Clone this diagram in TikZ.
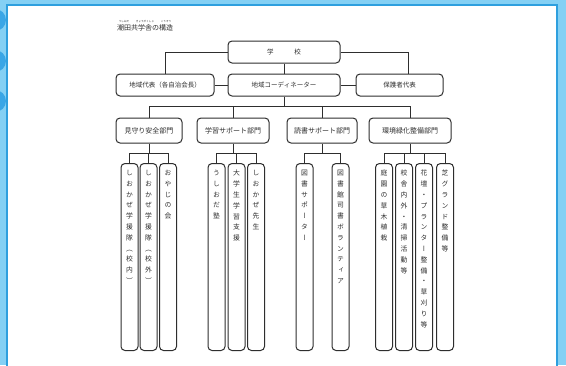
\documentclass[tikz,border=0pt]{standalone}
\usepackage{fontspec}
\newfontfamily\jp{Noto Sans CJK JP}
\newfontfamily\jpv[RawFeature=+vert]{Noto Sans CJK JP}
\definecolor{bgblue}{HTML}{84D0F4}
\definecolor{edgeblue}{HTML}{2E9FDE}
\definecolor{ringblue}{HTML}{3AA6E6}
\definecolor{ink}{HTML}{2E2E2E}
\tikzset{
  box/.style={draw=ink, line width=1pt, rounded corners=4pt, fill=white, inner sep=0pt, minimum height=22pt, text=ink, font=\jp\fontsize{6.5}{7}\selectfont},
  dept/.style={box, minimum height=25pt, font=\jp\fontsize{7}{8}\selectfont},
  col/.style={draw=ink, line width=1pt, rounded corners=4pt, inner sep=0pt, minimum width=17pt, minimum height=187pt, anchor=north},
  coltext/.style={anchor=north, align=center, inner sep=0pt, text=ink, font=\jpv\fontsize{6.8}{10.8}\selectfont},
  conn/.style={draw=ink, line width=1pt}
}
\begin{document}
\begin{tikzpicture}[x=1pt,y=-1pt]
\fill[bgblue] (0,0) rectangle (566,365);
\useasboundingbox (0,0) rectangle (566,365);
\fill[ringblue] (-5,20) circle (11);
\fill[ringblue] (-5,61) circle (11);
\fill[ringblue] (-5,101) circle (11);
\filldraw[fill=white, draw=edgeblue, line width=1.6pt] (7,5) rectangle (557,372);
% title
\node[anchor=west, inner sep=0pt, text=ink, font=\jp\fontsize{7}{8}\selectfont] (title) at (117,28) {潮田共学舎の構造};
\node[inner sep=0pt, text=ink, font=\jp\fontsize{2.6}{3}\selectfont] (r1) at (124,21.5) {うしおだ};
\node[inner sep=0pt, text=ink, font=\jp\fontsize{2.6}{3}\selectfont] (r2) at (145,21.5) {きょうがくしゃ};
\node[inner sep=0pt, text=ink, font=\jp\fontsize{2.6}{3}\selectfont] (r3) at (166,21.5) {こうぞう};
% top rows
\node[box, minimum width=112pt] (school) at (284,52) {学\hspace{3.2em}校};
\node[box, minimum width=98pt] (chiiki) at (165,85) {地域代表（各自治会長）};
\node[box, minimum width=112pt] (coord) at (284,85) {地域コーディネーター};
\node[box, minimum width=87pt] (hogo) at (399.5,85) {保護者代表};
% departments
\node[dept, minimum width=66pt] (d1) at (149,130.5) {見守り安全部門};
\node[dept, minimum width=72pt] (d2) at (233,130.5) {学習サポート部門};
\node[dept, minimum width=70pt] (d3) at (322,130.5) {読書サポート部門};
\node[dept, minimum width=82pt] (d4) at (410,130.5) {環境緑化整備部門};
% columns
\node[col] (c1) at (129.5,163) {};
\node[col] (c2) at (148.5,163) {};
\node[col] (c3) at (168,163) {};
\node[col] (c4) at (216.5,163) {};
\node[col] (c5) at (236.5,163) {};
\node[col] (c6) at (256,163) {};
\node[col] (c7) at (304.5,163) {};
\node[col] (c8) at (340.5,163) {};
\node[col] (c9) at (384,163) {};
\node[col] (c10) at (404,163) {};
\node[col] (c11) at (424,163) {};
\node[col] (c12) at (445,163) {};
\node[coltext] (t1) at ([yshift=-7pt]c1.north) {し\\お\\か\\ぜ\\学\\援\\隊\\（\\校\\内\\）};
\node[coltext] (t2) at ([yshift=-7pt]c2.north) {し\\お\\か\\ぜ\\学\\援\\隊\\（\\校\\外\\）};
\node[coltext] (t3) at ([yshift=-7pt]c3.north) {お\\や\\じ\\の\\会};
\node[coltext] (t4) at ([yshift=-7pt]c4.north) {う\\し\\お\\だ\\塾};
\node[coltext] (t5) at ([yshift=-7pt]c5.north) {大\\学\\生\\学\\習\\支\\援};
\node[coltext] (t6) at ([yshift=-7pt]c6.north) {し\\お\\か\\ぜ\\先\\生};
\node[coltext] (t7) at ([yshift=-7pt]c7.north) {図\\書\\サ\\ポ\\ー\\タ\\ー};
\node[coltext] (t8) at ([yshift=-7pt]c8.north) {図\\書\\館\\司\\書\\ボ\\ラ\\ン\\テ\\ィ\\ア};
\node[coltext] (t9) at ([yshift=-7pt]c9.north) {庭\\園\\の\\草\\木\\植\\栽};
\node[coltext] (t10) at ([yshift=-7pt]c10.north) {校\\舎\\内\\外\\・\\清\\掃\\活\\動\\等};
\node[coltext] (t11) at ([yshift=-7pt]c11.north) {花\\壇\\・\\プ\\ラ\\ン\\タ\\ー\\整\\備\\・\\草\\刈\\り\\等};
\node[coltext] (t12) at ([yshift=-7pt]c12.north) {芝\\グ\\ラ\\ン\\ド\\整\\備\\等};
% connectors
\coordinate (busy) at (0,106);
\coordinate (suby) at (0,153);
\draw[conn] (school.west) -| (chiiki.north);
\draw[conn] (school.east) -| ([xshift=8.5pt]hogo.north);
\draw[conn] (school.south) -- (coord.north);
\draw[conn] (chiiki.east) -- (coord.west);
\draw[conn] (coord.east) -- (hogo.west);
\draw[conn] (coord.south) -- (coord.south |- busy);
\draw[conn] (d1.north) -- (d1.north |- busy) -- (d4.north |- busy) -- (d4.north);
\draw[conn] (d2.north) -- (d2.north |- busy);
\draw[conn] (d3.north) -- (d3.north |- busy);
\draw[conn] (d1.south) -- (d1.south |- suby);
\draw[conn] (c1.north) -- (c1.north |- suby) -- (c3.north |- suby) -- (c3.north);
\draw[conn] (c2.north) -- (c2.north |- suby);
\draw[conn] (d2.south) -- (d2.south |- suby);
\draw[conn] (c4.north) -- (c4.north |- suby) -- (c6.north |- suby) -- (c6.north);
\draw[conn] (c5.north) -- (c5.north |- suby);
\draw[conn] (d3.south) -- (d3.south |- suby);
\draw[conn] (c7.north) -- (c7.north |- suby) -- (c8.north |- suby) -- (c8.north);
\draw[conn] (d4.south) -- (d4.south |- suby);
\draw[conn] (c9.north) -- (c9.north |- suby) -- (c12.north |- suby) -- (c12.north);
\draw[conn] (c10.north) -- (c10.north |- suby);
\draw[conn] (c11.north) -- (c11.north |- suby);
\end{tikzpicture}
\end{document}
